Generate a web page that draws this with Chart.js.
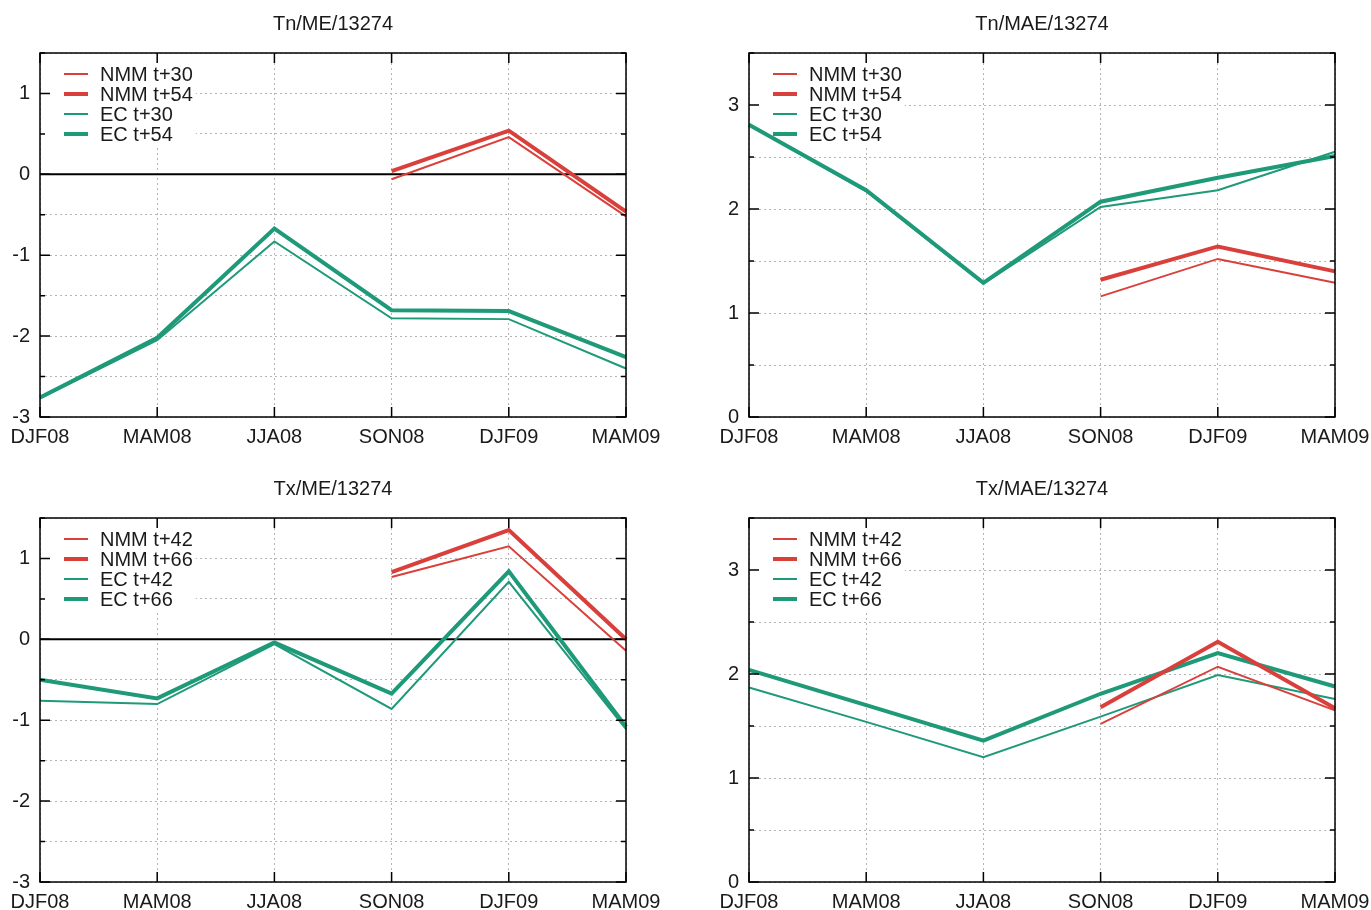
<!DOCTYPE html>
<html>
<head>
<meta charset="utf-8">
<title>Tn / Tx ME and MAE 13274</title>
<script src="https://cdn.jsdelivr.net/npm/chart.js@4/dist/chart.umd.min.js"></script>
<style>
  body { margin: 0; background: #fff; width: 1371px; height: 910px; overflow: hidden; position: relative; }
  canvas { position: absolute; }
</style>
</head>
<body>
<canvas id="tnMe" width="670" height="455" style="left:0;top:0"></canvas>
<canvas id="tnMae" width="662" height="455" style="left:709px;top:0"></canvas>
<canvas id="txMe" width="670" height="445" style="left:0;top:465px"></canvas>
<canvas id="txMae" width="662" height="445" style="left:709px;top:465px"></canvas>
<script>
var seasons = ['DJF08', 'MAM08', 'JJA08', 'SON08', 'DJF09', 'MAM09'];

// Tn mean error
var tnMeNmmT30 = [null, null, null, -0.06, 0.46, -0.52];
var tnMeNmmT54 = [null, null, null, 0.04, 0.54, -0.46];
var tnMeEcT30  = [-2.77, -2.05, -0.83, -1.78, -1.79, -2.40];
var tnMeEcT54  = [-2.76, -2.02, -0.67, -1.68, -1.69, -2.26];

// Tn mean absolute error
var tnMaeNmmT30 = [null, null, null, 1.16, 1.52, 1.29];
var tnMaeNmmT54 = [null, null, null, 1.32, 1.64, 1.40];
var tnMaeEcT30  = [2.81, 2.17, 1.28, 2.02, 2.18, 2.55];
var tnMaeEcT54  = [2.81, 2.18, 1.29, 2.07, 2.30, 2.51];

// Tx mean error
var txMeNmmT42 = [null, null, null, 0.77, 1.15, -0.14];
var txMeNmmT66 = [null, null, null, 0.83, 1.35, 0.00];
var txMeEcT42  = [-0.76, -0.80, -0.06, -0.86, 0.71, -1.11];
var txMeEcT66  = [-0.50, -0.73, -0.04, -0.67, 0.84, -1.08];

// Tx mean absolute error
var txMaeNmmT42 = [null, null, null, 1.52, 2.07, 1.65];
var txMaeNmmT66 = [null, null, null, 1.68, 2.31, 1.67];
var txMaeEcT42  = [1.87, 1.54, 1.20, 1.59, 1.99, 1.76];
var txMaeEcT66  = [2.04, 1.70, 1.36, 1.81, 2.20, 1.88];

var RED = '#d9403c';
var GREEN = '#1e9a79';
var FONT = '"Liberation Sans", Arial, Helvetica, sans-serif';

// gnuplot-like frame, inward ticks, zero line and boxed legend
var gnuplotLook = {
    id: 'gnuplotLook',
    beforeDatasetsDraw: function (chart, args, opts) {
        var a = chart.chartArea, ctx = chart.ctx;
        ctx.save();
        // legend box hides the grid behind it
        ctx.font = '20px ' + FONT;
        var maxW = 0;
        chart.data.datasets.forEach(function (d) { maxW = Math.max(maxW, ctx.measureText(d.label).width); });
        ctx.fillStyle = '#fff';
        ctx.fillRect(a.left + 1, a.top + 9, 62 + maxW, chart.data.datasets.length * 20 + 4);
        if (opts.zeroLine) {
            var y0 = chart.scales.y.getPixelForValue(0);
            ctx.strokeStyle = '#000';
            ctx.lineWidth = 2;
            ctx.beginPath();
            ctx.moveTo(a.left, y0);
            ctx.lineTo(a.right, y0);
            ctx.stroke();
        }
        ctx.restore();
    },
    afterDatasetsDraw: function (chart) {
        var a = chart.chartArea, ctx = chart.ctx;
        var xs = chart.scales.x, ys = chart.scales.y;
        ctx.save();
        ctx.strokeStyle = '#000';
        ctx.lineWidth = 1.5;
        ctx.beginPath();
        ys.ticks.forEach(function (t) {
            var y = ys.getPixelForValue(t.value);
            var len = Number.isInteger(t.value) ? 10 : 5;
            ctx.moveTo(a.left, y); ctx.lineTo(a.left + len, y);
            ctx.moveTo(a.right, y); ctx.lineTo(a.right - len, y);
        });
        xs.ticks.forEach(function (t, i) {
            var x = xs.getPixelForValue(i);
            ctx.moveTo(x, a.bottom); ctx.lineTo(x, a.bottom - 10);
            ctx.moveTo(x, a.top); ctx.lineTo(x, a.top + 10);
        });
        ctx.stroke();
        ctx.strokeRect(a.left, a.top, a.right - a.left, a.bottom - a.top);

        // legend samples and labels
        ctx.font = '20px ' + FONT;
        ctx.textBaseline = 'middle';
        chart.data.datasets.forEach(function (d, i) {
            var y = a.top + 21 + i * 20;
            ctx.strokeStyle = d.borderColor;
            ctx.lineWidth = d.borderWidth;
            ctx.beginPath();
            ctx.moveTo(a.left + 24, y);
            ctx.lineTo(a.left + 48, y);
            ctx.stroke();
            ctx.fillStyle = '#1a1a1a';
            ctx.fillText(d.label, a.left + 60, y + 1);
        });
        ctx.restore();
    }
};

function series(label, values, color, width) {
    return {
        label: label,
        data: values,
        borderColor: color,
        backgroundColor: color,
        borderWidth: width,
        pointRadius: 0,
        tension: 0,
        spanGaps: false
    };
}

function makePanel(id, title, yMin, yMax, zeroLine, datasets) {
    var canvas = document.getElementById(id);
    var xHeight = canvas.height - 417;
    return new Chart(canvas, {
        type: 'line',
        data: { labels: seasons, datasets: datasets },
        plugins: [gnuplotLook],
        options: {
            responsive: false,
            animation: false,
            events: [],
            layout: { padding: { left: 0, right: canvas.width - 626, top: 0, bottom: 0 } },
            plugins: {
                legend: { display: false },
                tooltip: { enabled: false },
                title: {
                    display: true,
                    text: title,
                    fullSize: false,
                    color: '#1a1a1a',
                    font: { family: FONT, size: 20, weight: 'normal', lineHeight: 1.2 },
                    padding: { top: 12, bottom: 17 }
                },
                gnuplotLook: { zeroLine: zeroLine }
            },
            scales: {
                x: {
                    offset: false,
                    afterFit: function (s) { s.height = xHeight; s.paddingLeft = 0; s.paddingRight = 0; },
                    grid: { color: '#b4b4b4', lineWidth: 1, drawTicks: false },
                    border: { display: false, dash: [2, 3] },
                    ticks: { color: '#1a1a1a', padding: 8, maxRotation: 0, autoSkip: false,
                             font: { family: FONT, size: 20 } }
                },
                y: {
                    min: yMin,
                    max: yMax,
                    afterFit: function (s) { s.width = 40; },
                    grid: { color: '#b4b4b4', lineWidth: 1, drawTicks: false },
                    border: { display: false, dash: [2, 3] },
                    ticks: {
                        stepSize: 0.5,
                        padding: 10,
                        color: '#1a1a1a',
                        font: { family: FONT, size: 20 },
                        callback: function (v) { return Number.isInteger(v) ? String(v) : ''; }
                    }
                }
            }
        }
    });
}

makePanel('tnMe', 'Tn/ME/13274', -3, 1.5, true, [
    series('NMM t+30', tnMeNmmT30, RED, 2),
    series('NMM t+54', tnMeNmmT54, RED, 4),
    series('EC t+30', tnMeEcT30, GREEN, 2),
    series('EC t+54', tnMeEcT54, GREEN, 4)
]);
makePanel('tnMae', 'Tn/MAE/13274', 0, 3.5, false, [
    series('NMM t+30', tnMaeNmmT30, RED, 2),
    series('NMM t+54', tnMaeNmmT54, RED, 4),
    series('EC t+30', tnMaeEcT30, GREEN, 2),
    series('EC t+54', tnMaeEcT54, GREEN, 4)
]);
makePanel('txMe', 'Tx/ME/13274', -3, 1.5, true, [
    series('NMM t+42', txMeNmmT42, RED, 2),
    series('NMM t+66', txMeNmmT66, RED, 4),
    series('EC t+42', txMeEcT42, GREEN, 2),
    series('EC t+66', txMeEcT66, GREEN, 4)
]);
makePanel('txMae', 'Tx/MAE/13274', 0, 3.5, false, [
    series('NMM t+42', txMaeNmmT42, RED, 2),
    series('NMM t+66', txMaeNmmT66, RED, 4),
    series('EC t+42', txMaeEcT42, GREEN, 2),
    series('EC t+66', txMaeEcT66, GREEN, 4)
]);
</script>
</body>
</html>
